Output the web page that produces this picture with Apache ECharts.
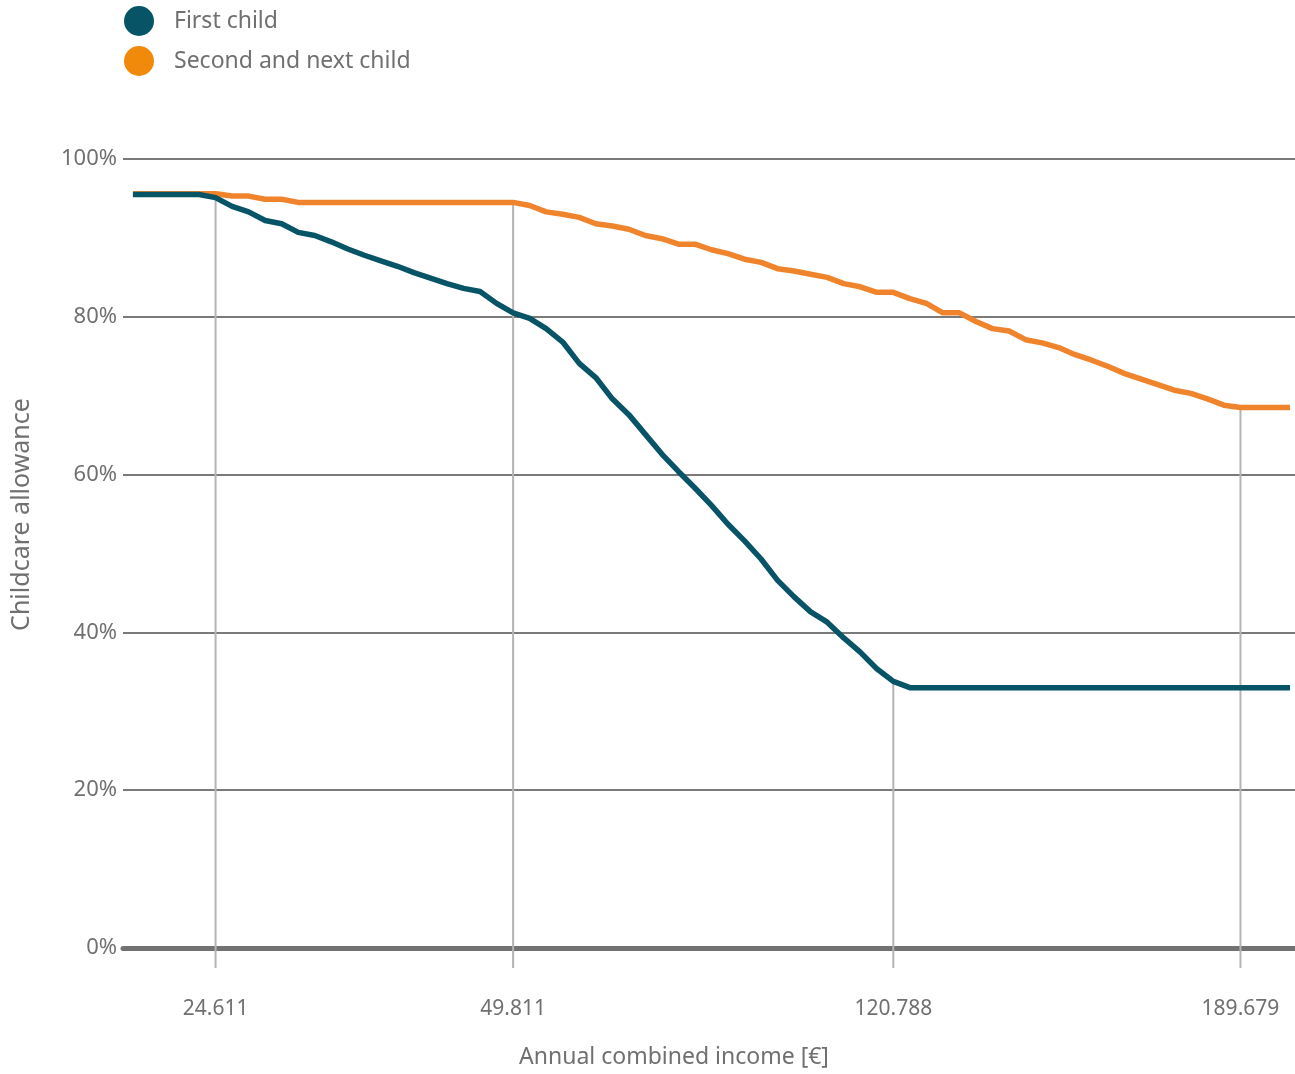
<!DOCTYPE html>
<html>
<head>
<meta charset="utf-8">
<script src="https://cdn.jsdelivr.net/npm/echarts@6/dist/echarts.min.js"></script>
<style>
  html, body { margin: 0; padding: 0; background: #fff; }
  #chart { width: 1295px; height: 1074px; }
</style>
</head>
<body>
<div id="chart"></div>
<script>
// Allowance (% of costs) per income bracket, bracket index 0..70
const firstChild = [
  95.5, 95.5, 95.5, 95.5, 95.5,
  95.1, 94.0, 93.3, 92.2, 91.8, 90.7, 90.3, 89.5, 88.6, 87.8,
  87.1, 86.4, 85.6, 84.9, 84.2, 83.6, 83.2, 81.7, 80.5, 79.8,
  78.5, 76.8, 74.1, 72.3, 69.6, 67.6, 65.1, 62.6, 60.4, 58.3,
  56.1, 53.7, 51.6, 49.3, 46.6, 44.5, 42.6, 41.3, 39.3, 37.5,
  35.4, 33.8,
  33.0, 33.0, 33.0, 33.0, 33.0, 33.0, 33.0, 33.0, 33.0, 33.0, 33.0, 33.0,
  33.0, 33.0, 33.0, 33.0, 33.0, 33.0, 33.0, 33.0, 33.0, 33.0, 33.0, 33.0
];
const secondChild = [
  95.6, 95.6, 95.6, 95.6, 95.6, 95.6,
  95.3, 95.3, 94.9, 94.9,
  94.5, 94.5, 94.5, 94.5, 94.5, 94.5, 94.5, 94.5, 94.5, 94.5, 94.5, 94.5, 94.5, 94.5,
  94.1, 93.3, 93.0, 92.6, 91.8, 91.5, 91.1, 90.3, 89.9, 89.2,
  89.2, 88.5, 88.0, 87.3, 86.9, 86.1, 85.8, 85.4, 85.0, 84.2,
  83.8, 83.1, 83.1, 82.3, 81.7, 80.5, 80.5, 79.4, 78.5, 78.2,
  77.1, 76.7, 76.1, 75.2, 74.5, 73.7, 72.8, 72.1, 71.4, 70.7,
  70.3, 69.6, 68.8,
  68.5, 68.5, 68.5, 68.5
];

// Marked income thresholds: bracket index, label, and the curve whose break it marks
const tickIndex = [5, 23, 46, 67];
const tickLabels = ['24.611', '49.811', '120.788', '189.679'];
const tickCurve = ['first', 'second', 'first', 'second'];

const seriesNames = ['First child', 'Second and next child'];
const yTicks = [0, 20, 40, 60, 80, 100];

const DARK = '#065466';
const ORANGE = '#f0842c';
const TEXT = '#707070';
const FONT = '"Noto Sans", "Open Sans", sans-serif';

const toPairs = arr => arr.map((v, i) => [i, v]);
const dropData = tickIndex.map((idx, k) => [idx, (tickCurve[k] === 'first' ? firstChild : secondChild)[idx]]);

const chart = echarts.init(document.getElementById('chart'), null, { renderer: 'canvas' });

chart.setOption({
  backgroundColor: '#ffffff',
  animation: false,
  textStyle: { fontFamily: FONT, color: TEXT },
  legend: {
    orient: 'vertical',
    left: 119,
    top: 1,
    icon: 'circle',
    itemWidth: 30,
    itemHeight: 30,
    itemGap: 10,
    data: [
      { name: seriesNames[0], itemStyle: { color: DARK } },
      { name: seriesNames[1], itemStyle: { color: '#f18a0a' } }
    ],
    textStyle: { fontSize: 23, color: TEXT, fontFamily: FONT, padding: [0, 0, 0, 15] }
  },
  grid: {
    left: 123, right: 0, top: 159, bottom: 126,
    containLabel: false,
    outerBoundsMode: 'none'
  },
  xAxis: {
    type: 'value',
    min: -0.6,
    max: 70.3,
    name: 'Annual combined income [€]',
    nameLocation: 'middle',
    nameGap: 98,
    nameTextStyle: { fontSize: 23, color: TEXT, fontFamily: FONT, padding: [0, 70, 0, 0] },
    axisLine: { show: true, onZero: true, lineStyle: { color: '#727272', width: 5 } },
    axisTick: { show: false },
    splitLine: { show: false },
    axisLabel: {
      customValues: tickIndex,
      margin: 51,
      fontSize: 21,
      color: TEXT,
      fontFamily: FONT,
      formatter: v => {
        const k = tickIndex.indexOf(Math.round(v));
        return k >= 0 ? tickLabels[k] : '';
      }
    }
  },
  yAxis: {
    type: 'value',
    min: 0,
    max: 100,
    interval: 20,
    name: 'Childcare allowance',
    nameLocation: 'middle',
    nameGap: 89,
    nameRotate: 90,
    nameTextStyle: { fontSize: 25, color: TEXT, fontFamily: FONT, padding: [0, 0, 0, 78] },
    axisLine: { show: false },
    axisTick: { show: false },
    axisLabel: {
      margin: 6,
      fontSize: 22,
      color: TEXT,
      fontFamily: FONT,
      formatter: v => (yTicks.indexOf(v) >= 0 ? v + '%' : '')
    },
    splitLine: { show: true, lineStyle: { color: '#7a7a7a', width: 2 } }
  },
  series: [
    {
      // vertical drop lines at the marked thresholds
      type: 'custom',
      name: 'thresholds',
      z: 1,
      clip: false,
      silent: true,
      data: dropData,
      renderItem: (params, api) => {
        const top = api.coord([api.value(0), api.value(1)]);
        const base = api.coord([api.value(0), 0]);
        return {
          type: 'line',
          shape: { x1: top[0], y1: top[1], x2: top[0], y2: base[1] + 20 },
          style: { stroke: '#b4b4b4', lineWidth: 2 }
        };
      }
    },
    {
      type: 'line',
      name: seriesNames[1],
      z: 3,
      data: toPairs(secondChild),
      showSymbol: false,
      symbol: 'none',
      color: ORANGE,
      lineStyle: { color: ORANGE, width: 5.5, join: 'round' }
    },
    {
      type: 'line',
      name: seriesNames[0],
      z: 4,
      data: toPairs(firstChild),
      showSymbol: false,
      symbol: 'none',
      color: DARK,
      lineStyle: { color: DARK, width: 5.5, join: 'round' }
    }
  ]
});
</script>
</body>
</html>
